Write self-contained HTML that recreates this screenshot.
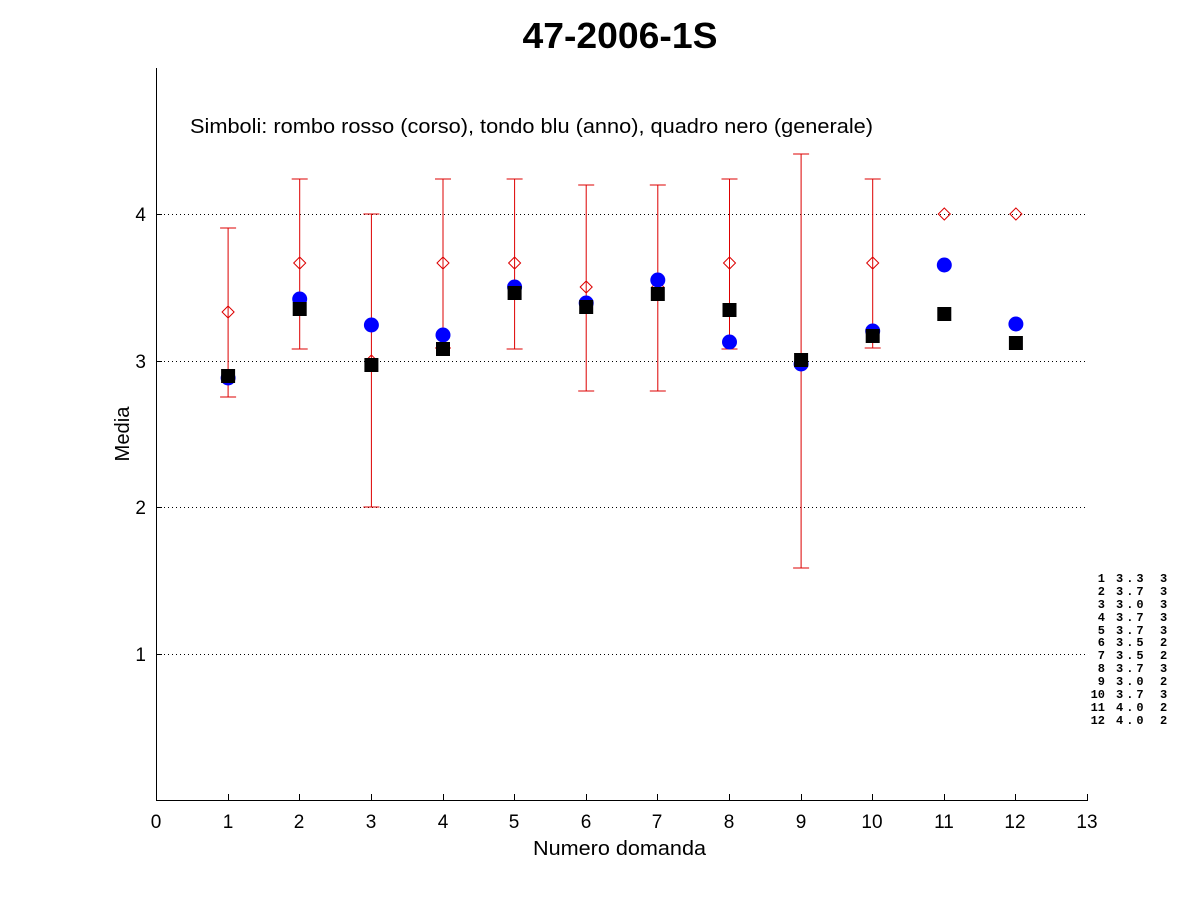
<!DOCTYPE html>
<html><head><style>body{margin:0;background:#fff}svg{display:block}</style></head><body>
<svg width="1201" height="900" xmlns="http://www.w3.org/2000/svg" font-family="Liberation Sans, sans-serif">
<rect width="1201" height="900" fill="#fff"/>
<text x="620" y="48" text-anchor="middle" font-size="36" font-weight="bold" textLength="195" lengthAdjust="spacingAndGlyphs">47-2006-1S</text>
<g stroke="#000" stroke-dasharray="1,3" stroke-width="1">
<line x1="156" x2="1087" y1="214.5" y2="214.5"/><line x1="156" x2="1087" y1="361.5" y2="361.5"/>
<line x1="156" x2="1087" y1="507.5" y2="507.5"/><line x1="156" x2="1087" y1="654.5" y2="654.5"/>
</g>
<g stroke="#000" stroke-width="1">
<line x1="156.5" y1="68" x2="156.5" y2="801"/><line x1="156" y1="800.5" x2="1088" y2="800.5"/>
<line x1="156" x2="162" y1="214.5" y2="214.5"/><line x1="156" x2="162" y1="361.5" y2="361.5"/>
<line x1="156" x2="162" y1="507.5" y2="507.5"/><line x1="156" x2="162" y1="654.5" y2="654.5"/>
<path d="M156.5 800v-6M228.5 800v-6M299.5 800v-6M371.5 800v-6M443.5 800v-6M514.5 800v-6M586.5 800v-6M657.5 800v-6M729.5 800v-6M801.5 800v-6M872.5 800v-6M944.5 800v-6M1015.5 800v-6M1087.5 800v-6"/>
</g>
<g font-size="19" text-anchor="middle">
<text x="156" y="828">0</text><text x="228" y="828">1</text><text x="299" y="828">2</text><text x="371" y="828">3</text><text x="443" y="828">4</text><text x="514" y="828">5</text><text x="586" y="828">6</text><text x="657" y="828">7</text><text x="729" y="828">8</text><text x="801" y="828">9</text><text x="872" y="828">10</text><text x="944" y="828">11</text><text x="1015" y="828">12</text><text x="1087" y="828">13</text>
</g>
<g font-size="19" text-anchor="end">
<text x="146" y="221">4</text><text x="146" y="368">3</text><text x="146" y="514">2</text><text x="146" y="661">1</text>
</g>
<text x="533" y="855" font-size="20" textLength="173" lengthAdjust="spacingAndGlyphs">Numero domanda</text>
<text transform="translate(129,434) rotate(-90)" text-anchor="middle" font-size="20" textLength="55" lengthAdjust="spacingAndGlyphs">Media</text>
<text x="190" y="133" font-size="20" textLength="683" lengthAdjust="spacingAndGlyphs">Simboli: rombo rosso (corso), tondo blu (anno), quadro nero (generale)</text>
<g stroke="#d00" stroke-width="1" fill="none">
<path d="M228.1 228V397M220.1 228H236.1M220.1 397H236.1M228.1 306L234.1 312L228.1 318L222.1 312Z"/>
<path d="M299.7 179V349M291.7 179H307.7M291.7 349H307.7M299.7 257L305.7 263L299.7 269L293.7 263Z"/>
<path d="M371.4 214V507M363.4 214H379.4M363.4 507H379.4M371.4 355L377.4 361L371.4 367L365.4 361Z"/>
<path d="M443 179V348M435 179H451M435 348H451M443 257L449 263L443 269L437 263Z"/>
<path d="M514.6 179V349M506.6 179H522.6M506.6 349H522.6M514.6 257L520.6 263L514.6 269L508.6 263Z"/>
<path d="M586.2 185V391M578.2 185H594.2M578.2 391H594.2M586.2 281L592.2 287L586.2 293L580.2 287Z"/>
<path d="M657.8 185V391M649.8 185H665.8M649.8 391H665.8M657.8 281L663.8 287L657.8 293L651.8 287Z"/>
<path d="M729.5 179V349M721.5 179H737.5M721.5 349H737.5M729.5 257L735.5 263L729.5 269L723.5 263Z"/>
<path d="M801.1 154V568M793.1 154H809.1M793.1 568H809.1M801.1 355L807.1 361L801.1 367L795.1 361Z"/>
<path d="M872.7 179V348M864.7 179H880.7M864.7 348H880.7M872.7 257L878.7 263L872.7 269L866.7 263Z"/>
<path d="M944.3 208L950.3 214L944.3 220L938.3 214Z"/>
<path d="M1015.9 208L1021.9 214L1015.9 220L1009.9 214Z"/>
</g>
<g fill="#00f">
<circle cx="228.1" cy="378" r="7.5"/><circle cx="299.7" cy="299" r="7.5"/><circle cx="371.4" cy="325" r="7.5"/><circle cx="443" cy="335" r="7.5"/><circle cx="514.6" cy="287" r="7.5"/><circle cx="586.2" cy="303" r="7.5"/><circle cx="657.8" cy="280" r="7.5"/><circle cx="729.5" cy="342" r="7.5"/><circle cx="801.1" cy="364" r="7.5"/><circle cx="872.7" cy="331" r="7.5"/><circle cx="944.3" cy="265" r="7.5"/><circle cx="1015.9" cy="324" r="7.5"/>
</g>
<g fill="#000">
<rect x="221.1" y="369" width="14" height="14"/><rect x="292.7" y="302" width="14" height="14"/><rect x="364.4" y="358" width="14" height="14"/><rect x="436" y="342" width="14" height="14"/><rect x="507.6" y="286" width="14" height="14"/><rect x="579.2" y="300" width="14" height="14"/><rect x="650.8" y="287" width="14" height="14"/><rect x="722.5" y="303" width="14" height="14"/><rect x="794.1" y="353" width="14" height="14"/><rect x="865.7" y="329" width="14" height="14"/><rect x="937.3" y="307" width="14" height="14"/><rect x="1008.9" y="336" width="14" height="14"/>
</g>
<g font-family="Liberation Mono, monospace" font-size="12" font-weight="bold">
<g text-anchor="end">
<text x="1105" y="582">1</text><text x="1105" y="595">2</text><text x="1105" y="608">3</text><text x="1105" y="621">4</text><text x="1105" y="634">5</text><text x="1105" y="646">6</text><text x="1105" y="659">7</text><text x="1105" y="672">8</text><text x="1105" y="685">9</text><text x="1105" y="698">10</text><text x="1105" y="711">11</text><text x="1105" y="724">12</text>
</g>
<g letter-spacing="3">
<text x="1116" y="582">3.3</text><text x="1116" y="595">3.7</text><text x="1116" y="608">3.0</text><text x="1116" y="621">3.7</text><text x="1116" y="634">3.7</text><text x="1116" y="646">3.5</text><text x="1116" y="659">3.5</text><text x="1116" y="672">3.7</text><text x="1116" y="685">3.0</text><text x="1116" y="698">3.7</text><text x="1116" y="711">4.0</text><text x="1116" y="724">4.0</text>
</g>
<g>
<text x="1160" y="582">3</text><text x="1160" y="595">3</text><text x="1160" y="608">3</text><text x="1160" y="621">3</text><text x="1160" y="634">3</text><text x="1160" y="646">2</text><text x="1160" y="659">2</text><text x="1160" y="672">3</text><text x="1160" y="685">2</text><text x="1160" y="698">3</text><text x="1160" y="711">2</text><text x="1160" y="724">2</text>
</g>
</g>
</svg>
</body></html>
